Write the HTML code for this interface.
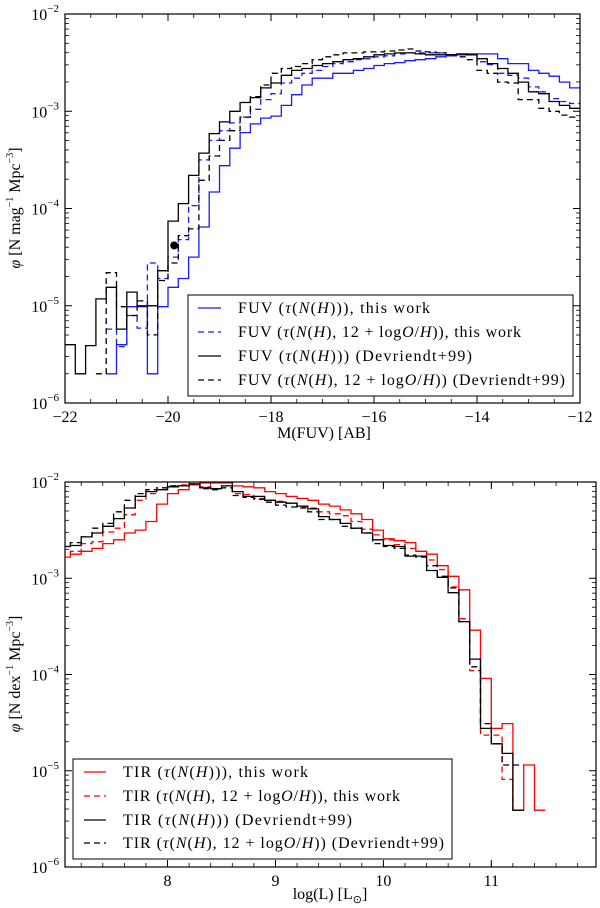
<!DOCTYPE html>
<html><head><meta charset="utf-8"><title>FUV and TIR luminosity functions</title>
<style>
html,body{margin:0;padding:0;background:#fff;}
svg{display:block;font-family:"Liberation Serif",serif;}
</style></head>
<body>
<svg id="fig" width="600" height="908" viewBox="0 0 600 908" xmlns="http://www.w3.org/2000/svg">
<defs>
<clipPath id="clipTop"><rect x="65" y="14" width="515" height="389"/></clipPath>
<clipPath id="clipBot"><rect x="65" y="482" width="531" height="385"/></clipPath>
</defs>
<rect width="600" height="908" fill="#fff"/>
<g id="topPanel"></g>
<g id="botPanel"></g>
</svg>
<script>
// ---- top panel data (log10 phi per 0.2 mag bin from -22.0) ----
const fuvBinStart = -22.0;
const fuvBinWidth = 0.2;
const fuvBlueSolid = [null,null,null,null,-5.70,-5.40,-5.01,-5.01,-5.70,-5.01,-4.81,-4.72,-4.50,-4.19,-3.83,-3.56,-3.38,-3.22,-3.13,-3.07,-3.05,-2.94,-2.83,-2.73,-2.66,-2.66,-2.61,-2.61,-2.58,-2.56,-2.53,-2.51,-2.50,-2.48,-2.47,-2.46,-2.44,-2.43,-2.42,-2.41,-2.41,-2.41,-2.46,-2.51,-2.51,-2.58,-2.61,-2.64,-2.70,-2.76];
const fuvBlueDashed = [null,null,null,null,-5.24,-5.42,-5.10,-5.23,-4.56,-4.72,-4.50,-4.32,-3.97,-3.50,-3.30,-3.20,-3.12,-3.06,-2.98,-2.88,-2.82,-2.71,-2.66,-2.61,-2.58,-2.54,-2.51,-2.49,-2.47,-2.46,-2.44,-2.43,-2.41,-2.40,-2.40,-2.40,-2.40,-2.42,-2.42,-2.42,-2.49,-2.52,-2.61,-2.63,-2.66,-2.75,-2.80,-2.87,-2.90,-2.92];
const fuvBlackSolid = [-5.40,-5.70,-5.41,-4.93,-4.81,-5.24,-4.86,-5.00,-5.00,-4.64,-4.13,-3.95,-3.66,-3.43,-3.23,-3.11,-3.00,-2.91,-2.86,-2.76,-2.71,-2.63,-2.58,-2.56,-2.53,-2.51,-2.49,-2.47,-2.46,-2.44,-2.42,-2.41,-2.40,-2.40,-2.41,-2.42,-2.42,-2.42,-2.41,-2.42,-2.46,-2.51,-2.56,-2.61,-2.70,-2.80,-2.82,-2.90,-2.94,-2.97];
const fuvBlackDashed = [null,null,null,-5.70,-4.66,-5.01,-5.10,-4.95,-5.30,-4.74,-4.56,-4.28,-4.21,-3.71,-3.46,-3.30,-3.20,-3.06,-2.85,-2.73,-2.61,-2.56,-2.54,-2.51,-2.47,-2.44,-2.42,-2.40,-2.40,-2.39,-2.39,-2.38,-2.37,-2.36,-2.38,-2.39,-2.40,-2.42,-2.44,-2.47,-2.58,-2.61,-2.70,-2.71,-2.88,-2.88,-2.97,-3.00,-3.04,-3.06];
const fuvPointMag = [-19.88];
const fuvPointLog = [-4.38];
const fuvXTicks = [-22,-20,-18,-16,-14,-12];
const fuvXTickLabels = ["\u221222","\u221220","\u221218","\u221216","\u221214","\u221212"];
const fuvYDecades = [-6,-5,-4,-3,-2];

// ---- bottom panel data (log10 phi per 0.1 dex bin from 7.0) ----
const tirBinStart = 7.0;
const tirBinWidth = 0.1;
const tirRedSolid = [-2.78,-2.75,-2.72,-2.69,-2.64,-2.60,-2.53,-2.50,-2.41,-2.23,-2.12,-2.08,-2.03,-2.01,-2.01,-2.01,-2.04,-2.05,-2.06,-2.10,-2.12,-2.15,-2.17,-2.19,-2.23,-2.25,-2.29,-2.33,-2.39,-2.50,-2.59,-2.61,-2.63,-2.72,-2.75,-2.87,-2.98,-3.12,-3.54,-4.04,-4.56,-4.51,-5.41,-4.94,-5.41];
const tirRedDashed = [-2.74,-2.72,-2.64,-2.62,-2.52,-2.48,-2.34,-2.19,-2.12,-2.08,-2.04,-2.03,-2.02,-2.05,-2.07,-2.04,-2.12,-2.13,-2.17,-2.19,-2.20,-2.22,-2.26,-2.27,-2.31,-2.33,-2.35,-2.41,-2.49,-2.55,-2.60,-2.65,-2.69,-2.72,-2.81,-2.91,-3.09,-3.42,-3.96,-4.63,-4.63,-5.09,-5.41];
const tirBlackSolid = [-2.67,-2.66,-2.57,-2.53,-2.46,-2.38,-2.27,-2.15,-2.10,-2.08,-2.05,-2.04,-2.02,-2.06,-2.07,-2.04,-2.10,-2.15,-2.15,-2.19,-2.21,-2.22,-2.25,-2.28,-2.36,-2.39,-2.43,-2.48,-2.53,-2.60,-2.66,-2.67,-2.77,-2.77,-2.92,-2.99,-3.15,-3.45,-3.84,-4.56,-4.72,-4.82,-5.41];
const tirBlackDashed = [-2.66,-2.63,-2.57,-2.48,-2.43,-2.31,-2.19,-2.12,-2.08,-2.06,-2.04,-2.04,-2.02,-2.07,-2.08,-2.06,-2.14,-2.16,-2.18,-2.21,-2.24,-2.26,-2.27,-2.31,-2.39,-2.39,-2.46,-2.48,-2.53,-2.64,-2.67,-2.69,-2.76,-2.78,-2.87,-2.98,-3.10,-3.45,-3.92,-4.51,-4.72,-4.94,-4.94];
const tirXTicks = [8,9,10,11];
const tirXTickLabels = ["8","9","10","11"];
const tirYDecades = [-6,-5,-4,-3,-2];

const NS = "http://www.w3.org/2000/svg";
function mk(tag, attrs, parent){ const e=document.createElementNS(NS,tag); for(const k in attrs) e.setAttribute(k,attrs[k]); if(parent) parent.appendChild(e); return e; }

const topAx = {x0:65,x1:580,y0:14,y1:403,xmin:-22,xmax:-12,lmax:-2,lmin:-6};
const botAx = {x0:65,x1:596,y0:482,y1:867,xmin:7.05,xmax:11.97,lmax:-2,lmin:-6};
function sx(ax,v){ return ax.x0+(v-ax.xmin)/(ax.xmax-ax.xmin)*(ax.x1-ax.x0); }
function sy(ax,l){ return ax.y0+(ax.lmax-l)/(ax.lmax-ax.lmin)*(ax.y1-ax.y0); }

function stepPath(ax, start, width, arr){
  let d=""; let prev=null;
  for(let k=0;k<arr.length;k++){
    const v=arr[k];
    if(v===null){ prev=null; continue; }
    const xa=sx(ax,start+k*width), xb=sx(ax,start+(k+1)*width), y=sy(ax,v);
    if(prev===null) d+="M"+xa.toFixed(1)+","+y.toFixed(1);
    else d+="L"+xa.toFixed(1)+","+y.toFixed(1);
    d+="L"+xb.toFixed(1)+","+y.toFixed(1);
    prev=v;
  }
  return d;
}

function drawAxes(g, ax, xTicks, xLabels, minorStep, yDecades){
  for(const dec of yDecades){
    const y=sy(ax,dec);
    mk("line",{x1:ax.x0,y1:y,x2:ax.x0+7,y2:y,stroke:"#000","stroke-width":1},g);
    mk("line",{x1:ax.x1,y1:y,x2:ax.x1-7,y2:y,stroke:"#000","stroke-width":1},g);
    const t=mk("text",{x:ax.x0-6,y:y+6,"text-anchor":"end","font-size":16,fill:"#000"},g);
    
    
    t.appendChild(document.createTextNode("10"));
    const s=mk("tspan",{dy:-8,"font-size":11},t); s.textContent="\u2212"+(-dec);
    if(dec<ax.lmax){
      for(let m=2;m<10;m++){
        const ym=sy(ax,dec+Math.log10(m));
        mk("line",{x1:ax.x0,y1:ym,x2:ax.x0+4,y2:ym,stroke:"#000","stroke-width":0.8},g);
        mk("line",{x1:ax.x1,y1:ym,x2:ax.x1-4,y2:ym,stroke:"#000","stroke-width":0.8},g);
      }
    }
  }
  for(let v=Math.ceil(ax.xmin/minorStep)*minorStep; v<=ax.xmax+1e-9; v+=minorStep){
    const x=sx(ax,v);
    mk("line",{x1:x,y1:ax.y1,x2:x,y2:ax.y1-4,stroke:"#000","stroke-width":0.8},g);
    mk("line",{x1:x,y1:ax.y0,x2:x,y2:ax.y0+4,stroke:"#000","stroke-width":0.8},g);
  }
  xTicks.forEach((v,i)=>{
    const x=sx(ax,v);
    mk("line",{x1:x,y1:ax.y1,x2:x,y2:ax.y1-7,stroke:"#000","stroke-width":1},g);
    mk("line",{x1:x,y1:ax.y0,x2:x,y2:ax.y0+7,stroke:"#000","stroke-width":1},g);
    const t=mk("text",{x:x,y:ax.y1+19,"text-anchor":"middle","font-size":16,fill:"#000"},g);
    
    
    t.textContent=xLabels[i];
  });
  const fr=mk("rect",{x:ax.x0,y:ax.y0,width:ax.x1-ax.x0,height:ax.y1-ax.y0,fill:"none",stroke:"#000","stroke-width":1.2},g);
  
  
}

function series(g, ax, clip, start, width, arr, color, dashed, name){
  const p=mk("path",{d:stepPath(ax,start,width,arr),fill:"none",stroke:color,"stroke-width":1.3,"clip-path":"url(#"+clip+")"},g);
  if(dashed) p.setAttribute("stroke-dasharray","6,4");
  
  
}

function legend(g, x, y, w, h, rows, lineX0, lineX1, textX, rowY){
  const box=mk("rect",{x:x,y:y,width:w,height:h,fill:"#fff",stroke:"#000","stroke-width":1},g);
  
  
  rows.forEach((r,i)=>{
    const yy=rowY[i];
    const ln=mk("line",{x1:lineX0,y1:yy,x2:lineX1,y2:yy,stroke:r.color,"stroke-width":1.3},g);
    if(r.dashed) ln.setAttribute("stroke-dasharray","6,4");
    
    
    const t=mk("text",{x:textX,y:yy+5,"font-size":16,fill:"#000",textLength:r.len,lengthAdjust:"spacing"},g);
    
    
    r.parts.forEach(pt=>{ const s=mk("tspan",{},t); if(pt[1]) s.setAttribute("font-style","italic"); s.textContent=pt[0]; });
  });
}

function labelParts(prefix, withOH, suffix){
  const p=[[prefix+" (",false],["\u03c4",true],["(",false],["N",true],["(",false],["H",true],[")",false]];
  if(withOH){ p.push([", 12 + log",false],["O",true],["/",false],["H",true],[")",false],[")",false]); }
  else { p.push([")",false],[")",false]); }
  p.push([suffix,false]);
  return p;
}

// ---- top panel ----
const gt=document.getElementById("topPanel");
series(gt,topAx,"clipTop",fuvBinStart,fuvBinWidth,fuvBlueSolid,"#1a1aff",false,"fuv-blue-solid-series");
series(gt,topAx,"clipTop",fuvBinStart,fuvBinWidth,fuvBlueDashed,"#1a1aff",true,"fuv-blue-dashed-series");
series(gt,topAx,"clipTop",fuvBinStart,fuvBinWidth,fuvBlackSolid,"#000",false,"fuv-black-solid-series");
series(gt,topAx,"clipTop",fuvBinStart,fuvBinWidth,fuvBlackDashed,"#000",true,"fuv-black-dashed-series");
fuvPointMag.forEach((m,i)=>{
  const c=mk("circle",{cx:sx(topAx,m),cy:sy(topAx,fuvPointLog[i]),r:4,fill:"#000"},gt);
  
  
});
drawAxes(gt,topAx,fuvXTicks,fuvXTickLabels,0.5,fuvYDecades);
legend(gt,188,295,385,101,[
  {color:"#1a1aff",dashed:false,len:192,parts:labelParts("FUV",false,", this work")},
  {color:"#1a1aff",dashed:true,len:283,parts:labelParts("FUV",true,", this work")},
  {color:"#000",dashed:false,len:234,parts:labelParts("FUV",false," (Devriendt+99)")},
  {color:"#000",dashed:true,len:327,parts:labelParts("FUV",true," (Devriendt+99)")}
],198,221,238,[308,332,356,380]);
let tx=mk("text",{x:324,y:438,"text-anchor":"middle","font-size":16},gt);


tx.textContent="M(FUV) [AB]";
let ty=mk("text",{x:0,y:0,"text-anchor":"middle","font-size":16,transform:"translate(20,208) rotate(-90)"},gt);


ty.innerHTML='<tspan font-style="italic">\u03c6</tspan> [N mag<tspan dy="-7" font-size="10">\u22121</tspan><tspan dy="7"> Mpc</tspan><tspan dy="-7" font-size="10">\u22123</tspan><tspan dy="7">]</tspan>';

// ---- bottom panel ----
const gb=document.getElementById("botPanel");
series(gb,botAx,"clipBot",tirBinStart,tirBinWidth,tirRedSolid,"#ff0000",false,"tir-red-solid-series");
series(gb,botAx,"clipBot",tirBinStart,tirBinWidth,tirRedDashed,"#ff0000",true,"tir-red-dashed-series");
series(gb,botAx,"clipBot",tirBinStart,tirBinWidth,tirBlackSolid,"#000",false,"tir-black-solid-series");
series(gb,botAx,"clipBot",tirBinStart,tirBinWidth,tirBlackDashed,"#000",true,"tir-black-dashed-series");
drawAxes(gb,botAx,tirXTicks,tirXTickLabels,0.2,tirYDecades);
legend(gb,73,759,379,100,[
  {color:"#ff0000",dashed:false,len:185,parts:labelParts("TIR",false,", this work")},
  {color:"#ff0000",dashed:true,len:277,parts:labelParts("TIR",true,", this work")},
  {color:"#000",dashed:false,len:229,parts:labelParts("TIR",false," (Devriendt+99)")},
  {color:"#000",dashed:true,len:321,parts:labelParts("TIR",true," (Devriendt+99)")}
],84,106,123,[772,796,820,843]);
tx=mk("text",{x:330,y:899,"text-anchor":"middle","font-size":16},gb);


tx.innerHTML='log(L) [L<tspan dy="4" font-size="11">\u2299</tspan><tspan dy="-4">]</tspan>';
ty=mk("text",{x:0,y:0,"text-anchor":"middle","font-size":16,transform:"translate(20,674) rotate(-90)"},gb);


ty.innerHTML='<tspan font-style="italic">\u03c6</tspan> [N dex<tspan dy="-7" font-size="10">\u22121</tspan><tspan dy="7"> Mpc</tspan><tspan dy="-7" font-size="10">\u22123</tspan><tspan dy="7">]</tspan>';
</script>
</body></html>
